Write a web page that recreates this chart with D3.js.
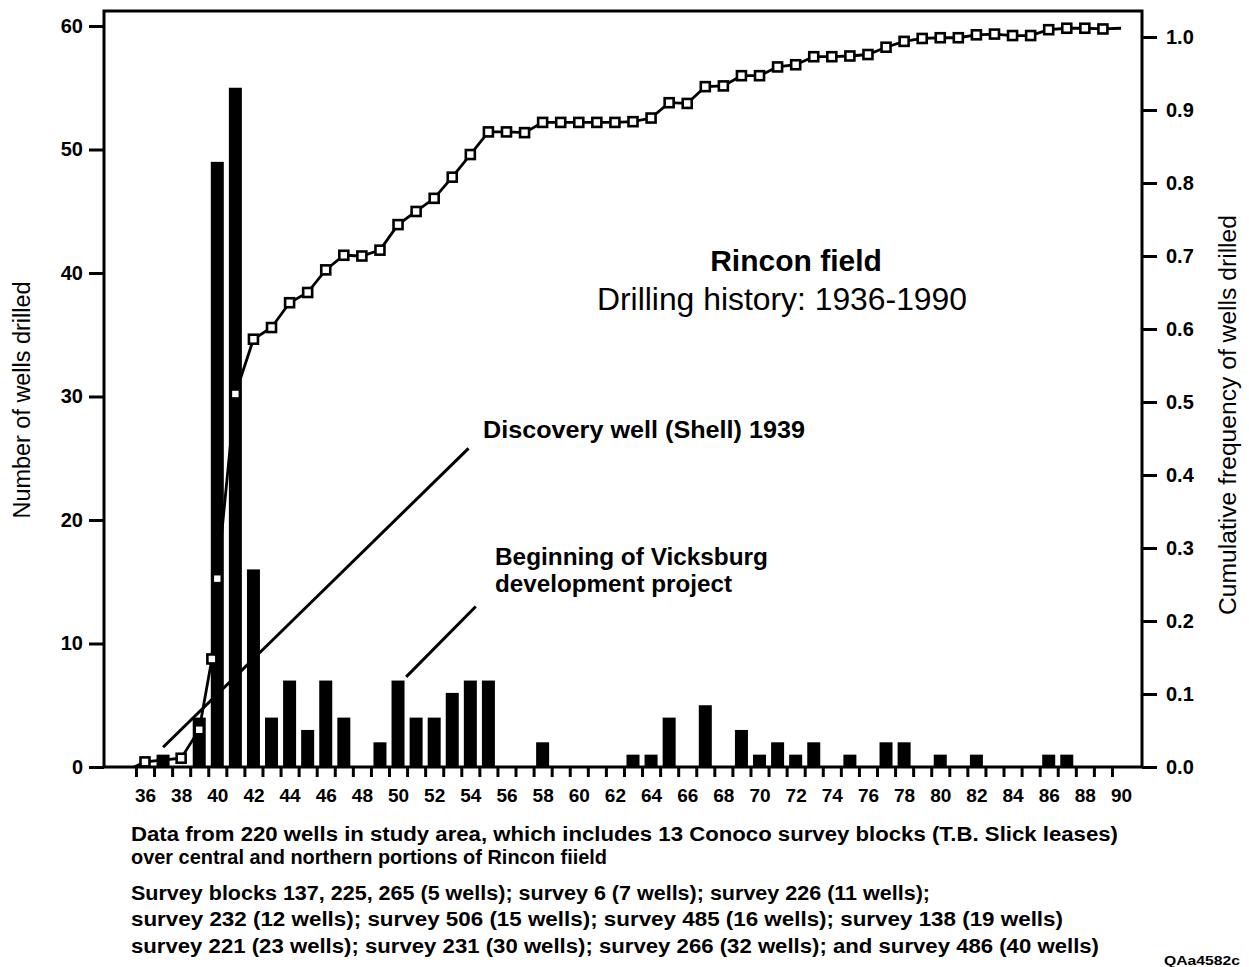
<html>
<head>
<style>
  body { margin: 0; background: #fff; }
  svg { display: block; font-family: "Liberation Sans", Arial, Helvetica, sans-serif; }
  .axis text { font-weight: bold; fill: #000; }
  .axis line { stroke: #000; stroke-width: 3; }
</style>
</head>
<body>
<svg width="1249" height="967"></svg>
<script src="https://d3js.org/d3.v7.min.js"></script>
<script>
// wells drilled per year (1936-1990)
var years = [36,37,38,39,40,41,42,43,44,45,46,47,48,49,50,51,52,53,54,55,56,57,58,59,60,61,62,63,
             64,65,66,67,68,69,70,71,72,73,74,75,76,77,78,79,80,81,82,83,84,85,86,87,88,89,90];
var wells = [0,1,0,4,49,55,16,4,7,3,7,4,0,2,7,4,4,6,7,7,0,0,2,0,0,0,0,1,
             1,4,0,5,0,3,1,2,1,2,0,1,0,2,2,0,1,0,1,0,0,0,1,1,0,0,0];

// cumulative frequency markers
var cumYears = [36,38,39,39.7,40,41,42,43,44,45,46,47,48,49,50,51,52,53,54,55,56,57,58,59,60,61,62,63,
                64,65,66,67,68,69,70,71,72,73,74,75,76,77,78,79,80,81,82,83,84,85,86,87,88,89];
var cumFreq = [0.007,0.012,0.051,0.148,0.258,0.511,0.586,0.602,0.636,0.650,0.681,0.701,0.700,0.708,
               0.743,0.761,0.779,0.808,0.839,0.870,0.870,0.869,0.883,0.883,0.883,0.883,0.883,0.884,
               0.889,0.910,0.909,0.932,0.933,0.947,0.947,0.959,0.962,0.973,0.973,0.974,0.976,0.986,
               0.994,0.998,0.999,0.999,1.003,1.004,1.002,1.002,1.010,1.012,1.012,1.011];
// line runs on from the axis and past the last marker
var cumStart = [35.4, 0], cumEnd = [90, 1.012];

var leftTicks = [0,10,20,30,40,50,60];
var rightTicks = [0,0.1,0.2,0.3,0.4,0.5,0.6,0.7,0.8,0.9,1.0];
var labelYears = [36,38,40,42,44,46,48,50,52,54,56,58,60,62,64,66,68,70,72,74,76,78,80,82,84,86,88,90];

var title = "Rincon field";
var subtitle = "Drilling history: 1936-1990";
var leftTitle = "Number of wells drilled";
var rightTitle = "Cumulative frequency of wells drilled";
var discoveryNote = "Discovery well (Shell) 1939";
var vicksburgNote = ["Beginning of Vicksburg", "development project"];
var notes = [
  "Data from  220 wells in study area, which includes 13 Conoco survey blocks (T.B. Slick leases)",
  "over central and northern portions of Rincon fiield",
  "Survey blocks 137, 225, 265 (5 wells); survey 6 (7 wells); survey 226 (11 wells);",
  "survey 232 (12 wells); survey 506 (15 wells); survey 485 (16 wells); survey 138 (19 wells)",
  "survey 221 (23 wells); survey 231 (30 wells); survey 266 (32 wells); and survey 486 (40 wells)"
];
var noteWidths = [987, 476, 799, 932, 968];
var figId = "QAa4582c";

var svg = d3.select("svg");
var plotL = 104, plotR = 1142, plotT = 11, plotB = 767;

var x = d3.scaleLinear().domain([36, 90]).range([145, 1121]);
var yL = d3.scaleLinear().domain([0, 60]).range([plotB, 26]);
var yR = d3.scaleLinear().domain([0, 1]).range([plotB, 37]);

// frame
svg.append("rect")
  .attr("x", plotL).attr("y", plotT)
  .attr("width", plotR - plotL).attr("height", plotB - plotT)
  .attr("fill", "none").attr("stroke", "#000").attr("stroke-width", 3);

// axes
var boundaries = years.map(function(d) { return d - 0.5; });
svg.append("g").attr("class", "axis")
  .attr("transform", "translate(0," + plotB + ")")
  .call(d3.axisBottom(x).tickValues(boundaries).tickSize(10).tickFormat(""))
  .select(".domain").remove();

svg.append("g").attr("class", "axis")
  .attr("transform", "translate(0," + plotB + ")")
  .call(d3.axisBottom(x).tickValues(labelYears).tickSize(0).tickPadding(22).tickFormat(d3.format("d")))
  .call(function(g) {
    g.select(".domain").remove();
    g.selectAll("text").attr("font-size", 19).attr("font-family", "Liberation Sans, Arial, sans-serif");
  });

svg.append("g").attr("class", "axis")
  .attr("transform", "translate(" + plotL + ",0)")
  .call(d3.axisLeft(yL).tickValues(leftTicks).tickSize(15).tickPadding(6))
  .call(function(g) {
    g.select(".domain").remove();
    g.selectAll("text").attr("font-size", 20).attr("font-family", "Liberation Sans, Arial, sans-serif");
  });

svg.append("g").attr("class", "axis")
  .attr("transform", "translate(" + plotR + ",0)")
  .call(d3.axisRight(yR).tickValues(rightTicks).tickSize(15).tickPadding(9).tickFormat(d3.format(".1f")))
  .call(function(g) {
    g.select(".domain").remove();
    g.selectAll("text").attr("font-size", 20).attr("font-family", "Liberation Sans, Arial, sans-serif");
  });

// bars
svg.append("g").selectAll("rect")
  .data(years.map(function(d, i) { return { year: d, n: wells[i] }; }).filter(function(d) { return d.n > 0; }))
  .enter().append("rect")
  .attr("x", function(d) { return x(d.year) - 6.5; })
  .attr("width", 13)
  .attr("y", function(d) { return yL(d.n); })
  .attr("height", function(d) { return yL(0) - yL(d.n); })
  .attr("fill", "#000");

// cumulative line
var pts = cumYears.map(function(d, i) { return [d, cumFreq[i]]; });
var line = d3.line()
  .x(function(d) { return x(d[0]); })
  .y(function(d) { return yR(d[1]); });
svg.append("path")
  .datum([cumStart].concat(pts, [cumEnd]))
  .attr("d", line)
  .attr("fill", "none").attr("stroke", "#000").attr("stroke-width", 2.8);

svg.append("g").selectAll("rect")
  .data(pts)
  .enter().append("rect")
  .attr("x", function(d) { return x(d[0]) - 4.5; })
  .attr("y", function(d) { return yR(d[1]) - 4.5; })
  .attr("width", 9).attr("height", 9)
  .attr("fill", "#fff").attr("stroke", "#000").attr("stroke-width", 2.6);

// titles
svg.append("text").attr("x", 796).attr("y", 271)
  .attr("text-anchor", "middle").attr("font-size", 30).attr("font-weight", "bold")
  .text(title);
svg.append("text").attr("x", 782).attr("y", 310)
  .attr("text-anchor", "middle").attr("font-size", 31)
  .attr("textLength", 370).attr("lengthAdjust", "spacingAndGlyphs")
  .text(subtitle);

svg.append("text")
  .attr("transform", "translate(30,400) rotate(-90)")
  .attr("text-anchor", "middle").attr("font-size", 23)
  .attr("textLength", 237).attr("lengthAdjust", "spacingAndGlyphs")
  .text(leftTitle);
svg.append("text")
  .attr("transform", "translate(1236,415) rotate(-90)")
  .attr("text-anchor", "middle").attr("font-size", 23)
  .attr("textLength", 400).attr("lengthAdjust", "spacingAndGlyphs")
  .text(rightTitle);

// annotations
function leader(x1, v1, x2, v2) {
  svg.append("line")
    .attr("x1", x(x1)).attr("y1", yL(v1))
    .attr("x2", x(x2)).attr("y2", yL(v2))
    .attr("stroke", "#000").attr("stroke-width", 3);
}
leader(37.0, 1.6, 53.9, 25.8);
leader(50.45, 7.3, 54.3, 13.0);

svg.append("text").attr("x", 483).attr("y", 438)
  .attr("font-size", 23).attr("font-weight", "bold")
  .attr("textLength", 322).attr("lengthAdjust", "spacingAndGlyphs")
  .text(discoveryNote);
svg.append("text").attr("x", 495).attr("y", 565)
  .attr("font-size", 23).attr("font-weight", "bold")
  .attr("textLength", 273).attr("lengthAdjust", "spacingAndGlyphs")
  .text(vicksburgNote[0]);
svg.append("text").attr("x", 495).attr("y", 592)
  .attr("font-size", 23).attr("font-weight", "bold")
  .attr("textLength", 237).attr("lengthAdjust", "spacingAndGlyphs")
  .text(vicksburgNote[1]);

// footnotes
var noteY = [841, 864, 900, 926, 953];
svg.append("g").selectAll("text")
  .data(notes)
  .enter().append("text")
  .attr("x", 131)
  .attr("y", function(d, i) { return noteY[i]; })
  .attr("font-size", 20).attr("font-weight", "bold")
  .attr("textLength", function(d, i) { return noteWidths[i]; })
  .attr("lengthAdjust", "spacingAndGlyphs")
  .text(function(d) { return d; });

svg.append("text").attr("x", 1164).attr("y", 965)
  .attr("font-size", 13).attr("font-weight", "bold")
  .attr("textLength", 76).attr("lengthAdjust", "spacingAndGlyphs")
  .text(figId);
</script>
</body>
</html>
